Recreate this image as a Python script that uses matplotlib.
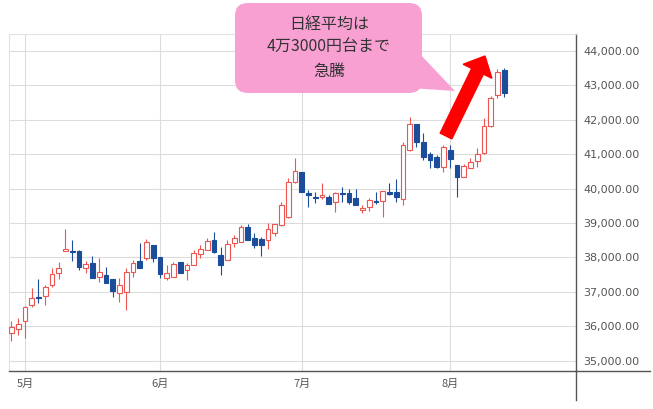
import matplotlib
matplotlib.use('Agg')
import matplotlib.pyplot as plt
from matplotlib.patches import FancyBboxPatch, Polygon, FancyArrow
from matplotlib.lines import Line2D
from matplotlib.transforms import IdentityTransform
from matplotlib.ticker import StrMethodFormatter

plt.rcParams['font.family'] = ['Noto Sans CJK JP', 'DejaVu Sans']

# Nikkei 225 daily candles (trading days)
dates = ['04-28', '04-30', '05-01', '05-02', '05-07', '05-08', '05-09', '05-12', '05-13', '05-14',
         '05-15', '05-16', '05-19', '05-20', '05-21', '05-22', '05-23', '05-26', '05-27', '05-28',
         '05-29', '05-30', '06-02', '06-03', '06-04', '06-05', '06-06', '06-09', '06-10', '06-11',
         '06-12', '06-13', '06-16', '06-17', '06-18', '06-19', '06-20', '06-23', '06-24', '06-25',
         '06-26', '06-27', '06-30', '07-01', '07-02', '07-03', '07-04', '07-07', '07-08', '07-09',
         '07-10', '07-11', '07-14', '07-15', '07-16', '07-17', '07-18', '07-22', '07-23', '07-24',
         '07-25', '07-28', '07-29', '07-30', '07-31', '08-01', '08-04', '08-05', '08-06', '08-07',
         '08-08', '08-12', '08-13', '08-14']
opens = [35800, 35915, 36150, 36620, 36860, 36880, 37190, 37555, 38195, 38195,
         38195, 37700, 37845, 37420, 37490, 37360, 36955, 37005, 37585, 37895,
         37990, 38360, 38000, 37390, 37440, 37875, 37635, 37780, 38095, 38215,
         38505, 38070, 37925, 38410, 38455, 38870, 38555, 38525, 38505, 38700,
         38940, 39180, 40180, 40490, 39860, 39765, 39745, 39765, 39620, 39880,
         39860, 39715, 39375, 39470, 39640, 39650, 39890, 39890, 39700, 41120,
         41875, 41360, 41000, 40905, 40635, 41120, 40680, 40345, 40590, 40810,
         41020, 41815, 42715, 43440]
highs = [36150, 36250, 36600, 37100, 37360, 37200, 37680, 37860, 38815, 38500,
         38200, 37900, 38040, 37970, 37730, 37360, 37390, 37680, 37920, 38410,
         38530, 38360, 38000, 37780, 37875, 37875, 37830, 38215, 38360, 38555,
         38745, 38310, 38505, 38650, 38940, 38970, 38700, 38600, 38990, 38970,
         39615, 40300, 40875, 40490, 39955, 39910, 40150, 39810, 39910, 40050,
         39980, 39980, 39520, 39715, 39910, 39940, 40150, 40265, 41360, 42085,
         41875, 41600, 41070, 40960, 41265, 41265, 40680, 40700, 40880, 41170,
         42040, 42700, 43460, 43490]
lows = [35560, 35750, 35670, 36570, 36680, 36620, 37150, 37360, 38180, 37900,
        37635, 37535, 37410, 37295, 37265, 36860, 36710, 36470, 37440, 37700,
        37920, 37875, 37390, 37345, 37440, 37535, 37345, 37780, 37990, 38215,
        38120, 37490, 37925, 38310, 38455, 38505, 38265, 38040, 38235, 38620,
        38900, 39150, 40150, 39890, 39470, 39570, 39700, 39550, 39330, 39620,
        39550, 39520, 39300, 39350, 39560, 39180, 39810, 39620, 39520, 41100,
        41215, 40830, 40590, 40590, 40490, 40590, 39760, 40330, 40590, 40635,
        41000, 41800, 42620, 42665]
closes = [35990, 36060, 36570, 36810, 36810, 37150, 37520, 37700, 38235, 38155,
          37730, 37800, 37410, 37565, 37265, 37030, 37200, 37585, 37830, 37700,
          38455, 37975, 37505, 37535, 37800, 37535, 37780, 38115, 38240, 38475,
          38165, 37780, 38380, 38555, 38870, 38505, 38360, 38360, 38815, 38970,
          39520, 40200, 40520, 39890, 39810, 39735, 39810, 39550, 39860, 39840,
          39620, 39520, 39425, 39665, 39600, 39940, 39840, 39765, 41250, 41875,
          41360, 40925, 40830, 40635, 41215, 40850, 40345, 40655, 40780, 41000,
          41815, 42620, 43390, 42765]

y_ticks = list(range(35000, 44001, 1000))
callout_lines = ['日経平均は', '4万3000円台まで', '急騰']

UP = '#EC5550'
DOWN = '#1B4D9A'
GRID = '#DCDCDC'
AXIS = '#555555'

W, H = 653, 409
fig = plt.figure(figsize=(W / 100, H / 100), dpi=100)
ax = fig.add_axes([9 / W, 38 / H, 567 / W, 337 / H])

xs = list(range(len(dates)))
up = [c >= o for o, c in zip(opens, closes)]
colors = [UP if u else DOWN for u in up]

# wicks then bodies
ax.vlines(xs, lows, highs, colors=colors, linewidth=0.8, zorder=2)
bottoms = [min(o, c) for o, c in zip(opens, closes)]
heights = [max(abs(c - o), 20) for o, c in zip(opens, closes)]
faces = ['white' if u else DOWN for u in up]
ax.bar(xs, heights, bottom=bottoms, width=0.68, color=faces, edgecolor=colors,
       linewidth=0.8, zorder=3)

# month ticks where the month changes
month_pos = [i for i in range(1, len(dates)) if dates[i][:2] != dates[i - 1][:2]]
month_lab = [str(int(dates[i][:2])) + '月' for i in month_pos]
ax.set_xticks(month_pos)
ax.set_xticklabels(month_lab)

ax.set_xlim(-0.37, 83.63)
ax.set_ylim(34700, 44488)
ax.set_yticks(y_ticks)
ax.yaxis.set_major_formatter(StrMethodFormatter('{x:,.2f}'))
ax.yaxis.tick_right()

ax.grid(True, color=GRID, linewidth=0.8, zorder=0)
ax.set_axisbelow(True)
ax.tick_params(axis='both', length=0, colors=AXIS)
ax.tick_params(axis='x', pad=6, labelsize=8)
ax.tick_params(axis='y', pad=5, labelsize=8)
for lab in ax.get_yticklabels():
    lab.set_family('DejaVu Sans')

for s in ['top', 'left']:
    ax.spines[s].set_color('#E2E2E2')
    ax.spines[s].set_linewidth(0.8)
for s in ['bottom', 'right']:
    ax.spines[s].set_color(AXIS)
    ax.spines[s].set_linewidth(1.0)

# axis lines running into the label areas
fig.add_artist(Line2D([576 / W, 650 / W], [38 / H, 38 / H], transform=fig.transFigure,
                      color=AXIS, linewidth=1.0))
fig.add_artist(Line2D([576 / W, 576 / W], [38 / H, 9 / H], transform=fig.transFigure,
                      color=AXIS, linewidth=1.0))

# red arrow (pixels)
fig.add_artist(FancyArrow(446, H - 136, 39, 80, width=13, head_width=32, head_length=17,
                          length_includes_head=True, color='#FF0000',
                          transform=IdentityTransform(), zorder=5))

# pink callout (pixels)
PINK = '#F9A0D3'
fig.add_artist(Polygon([(418, H - 52), (410, H - 88), (455, H - 91)], closed=True,
                       facecolor=PINK, edgecolor='none', transform=IdentityTransform(), zorder=6))
fig.add_artist(FancyBboxPatch((235, H - 93), 187, 90, boxstyle='round,pad=0,rounding_size=13',
                              facecolor=PINK, edgecolor='none',
                              transform=IdentityTransform(), zorder=6))
for k, line in enumerate(callout_lines):
    fig.text(329 / W, (H - 24 - 23.5 * k) / H, line, ha='center', va='center',
             fontsize=11.5, color='#333333', zorder=7)

fig.savefig('out.png', dpi=100)
